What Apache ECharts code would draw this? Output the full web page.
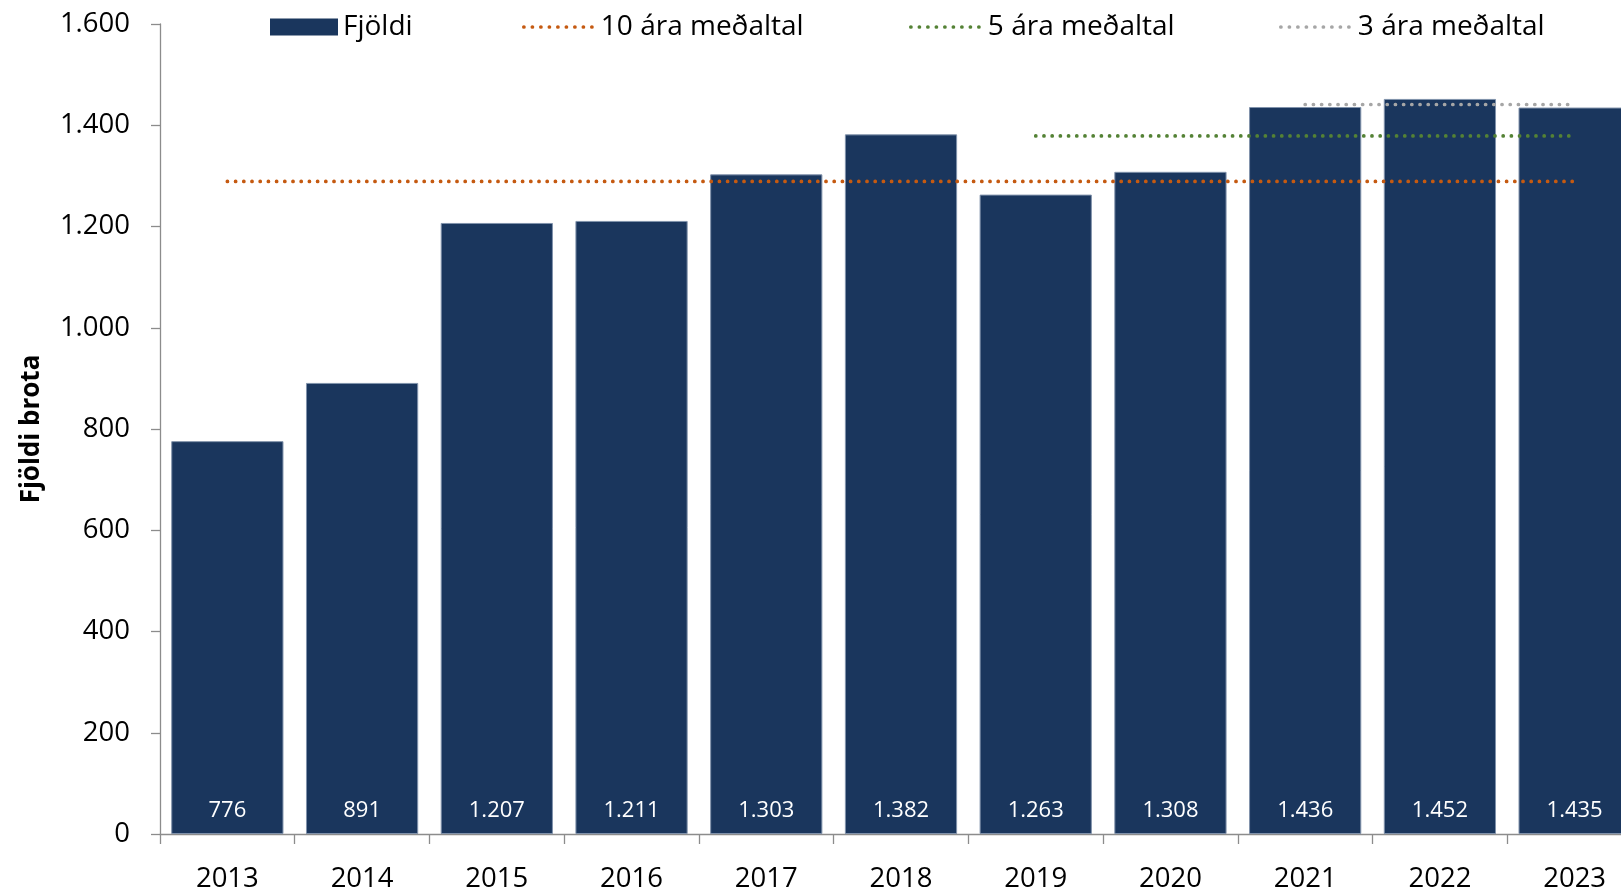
<!DOCTYPE html>
<html>
<head>
<meta charset="utf-8">
<script src="https://cdn.jsdelivr.net/npm/echarts@6/dist/echarts.min.js"></script>
<style>
html,body{margin:0;padding:0;background:#fff;overflow:hidden;}
#chart{width:1642px;height:893px;}
</style>
</head>
<body>
<div id="chart"></div>
<script>
const years = ['2013','2014','2015','2016','2017','2018','2019','2020','2021','2022','2023'];
const fjoldi = [776, 891, 1207, 1211, 1303, 1382, 1263, 1308, 1436, 1452, 1435];
const avg10 = [1289, 1289, 1289, 1289, 1289, 1289, 1289, 1289, 1289, 1289, 1289];
const avg5 = [null, null, null, null, null, null, 1379, 1379, 1379, 1379, 1379];
const avg3 = [null, null, null, null, null, null, null, null, 1441, 1441, 1441];
const yTicks = [0, 200, 400, 600, 800, 1000, 1200, 1400, 1600];

const FONT = '"Open Sans", sans-serif';
const fmt = v => String(v).replace(/\B(?=(\d{3})+(?!\d))/g, '.');

const chart = echarts.init(document.getElementById('chart'), null, {renderer: 'canvas'});

function dotLine(color) {
  return { color: color, width: 3.7, type: [0.1, 8.1], cap: 'round' };
}
function legendFor(name, left, w, itemStyle) {
  return {
    data: [{ name: name, icon: itemStyle ? 'rect' : undefined }], left: left, top: 13, orient: 'horizontal',
    itemWidth: w, itemHeight: 17, padding: 0,
    textStyle: { fontFamily: FONT, fontSize: 28, color: '#000' },
    itemStyle: itemStyle || { color: 'rgba(0,0,0,0)', borderWidth: 0 },
    lineStyle: { width: 3.7, type: [0.1, 8.4], cap: 'round' },
    selectedMode: false
  };
}

const option = {
  backgroundColor: '#fff',
  animation: false,
  legend: [
    legendFor('Fjöldi', 270, 68, { color: '#1a365d', borderWidth: 0 }),
    legendFor('10 ára meðaltal', 522, 72),
    legendFor('5 ára meðaltal', 909, 72),
    legendFor('3 ára meðaltal', 1279, 72)
  ],
  grid: { left: 160, top: 24, right: 0, bottom: 55.3, containLabel: false },
  xAxis: {
    type: 'category',
    data: years,
    boundaryGap: true,
    axisLine: { lineStyle: { color: '#8c8c8c', width: 1.3 } },
    axisTick: { show: true, length: 10, alignWithLabel: false, lineStyle: { color: '#8c8c8c', width: 1.3 } },
    axisLabel: { fontFamily: FONT, fontSize: 27.5, color: '#000', margin: 31, interval: 0 }
  },
  yAxis: {
    type: 'value',
    min: yTicks[0], max: yTicks[yTicks.length - 1], interval: 200,
    name: 'Fjöldi brota',
    nameLocation: 'middle',
    nameGap: 115,
    nameTextStyle: { fontFamily: FONT, fontSize: 26, fontWeight: 'bold', color: '#000' },
    axisLine: { show: true, lineStyle: { color: '#8c8c8c', width: 1.3 } },
    axisTick: { show: true, length: 9, lineStyle: { color: '#8c8c8c', width: 1.3 } },
    splitLine: { show: false },
    axisLabel: { fontFamily: FONT, fontSize: 27.5, color: '#000', margin: 30, formatter: v => fmt(v) }
  },
  series: [
    {
      name: 'Fjöldi', type: 'bar', data: fjoldi,
      barCategoryGap: '16.7%',
      itemStyle: { color: '#1a365d', borderColor: '#8092ab', borderWidth: 1 },
      label: {
        show: true, position: 'insideBottom', distance: 12,
        fontFamily: FONT, fontSize: 22, color: '#fff',
        formatter: p => fmt(p.value)
      },
      z: 1
    },
    { name: '10 ára meðaltal', type: 'line', data: avg10, symbol: 'none', lineStyle: dotLine('#c55a11'), itemStyle: { color: '#c55a11' }, z: 3 },
    { name: '5 ára meðaltal', type: 'line', data: avg5, symbol: 'none', lineStyle: dotLine('#548235'), itemStyle: { color: '#548235' }, z: 3 },
    { name: '3 ára meðaltal', type: 'line', data: avg3, symbol: 'none', lineStyle: dotLine('#a6a6a6'), itemStyle: { color: '#a6a6a6' }, z: 3 }
  ]
};
chart.setOption(option);
</script>
</body>
</html>
